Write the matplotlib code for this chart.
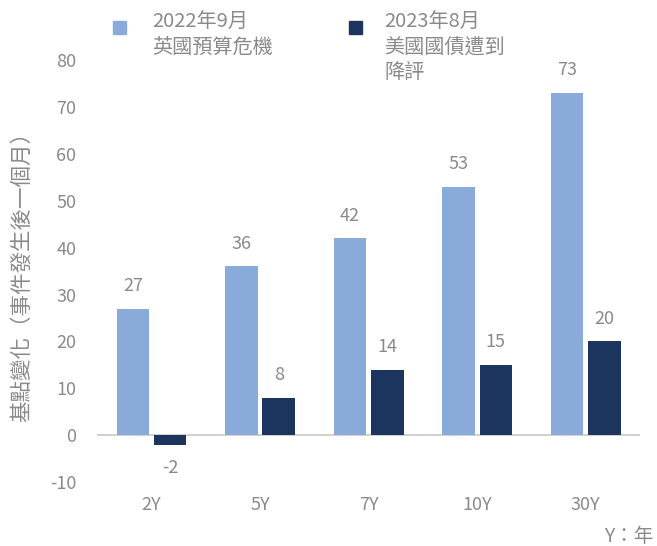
import matplotlib.pyplot as plt
from matplotlib.patches import Rectangle
import numpy as np

plt.rcParams['font.family'] = ['Noto Sans CJK TC', 'DejaVu Sans']
plt.rcParams['axes.unicode_minus'] = False

# Data
tenors = ['2Y', '5Y', '7Y', '10Y', '30Y']
uk_crisis = [27, 36, 42, 53, 73]
us_downgrade = [-2, 8, 14, 15, 20]
legend_labels = ['2022年9月\n英國預算危機', '2023年8月\n美國國債遭到\n降評']

light = '#8aaad9'
dark = '#1b355e'
grey = '#8a8a8a'

fig = plt.figure(figsize=(6.57, 5.46), dpi=100)
ax = fig.add_axes([0.148, 0.117, 0.826, 0.773])

x = np.arange(len(tenors))
w = 0.30
off = 0.172
ax.bar(x - off, uk_crisis, w, color=light)
ax.bar(x + off, us_downgrade, w, color=dark)

# value labels
for xi, v in zip(x, uk_crisis):
    ax.text(xi - off, v + 4.8, str(v), ha='center', va='center', color=grey, fontsize=13)
for xi, v in zip(x, us_downgrade):
    y = v + 4.8 if v >= 0 else v - 5
    ax.text(xi + off, y, str(v), ha='center', va='center', color=grey, fontsize=13)

ax.axhline(0, color='#c8c8c8', lw=1.2, zorder=0)
ax.set_xlim(-0.5, 4.5)
ax.set_ylim(-10, 80)
ax.set_yticks(range(-10, 81, 10))
ax.set_xticks(x)
ax.set_xticklabels(tenors)
ax.tick_params(length=0, colors=grey, labelsize=13)
ax.tick_params(axis='y', pad=15)
ax.tick_params(axis='x', pad=10)
for s in ax.spines.values():
    s.set_visible(False)

ax.set_ylabel('基點變化（事件發生後一個月）', color=grey, fontsize=15.5, labelpad=12)

# legend drawn by hand
fig.patches.append(Rectangle((113 / 657, 1 - 34 / 546), 13 / 657, 13 / 546,
                             transform=fig.transFigure, color=light))
fig.patches.append(Rectangle((349 / 657, 1 - 34 / 546), 13 / 657, 13 / 546,
                             transform=fig.transFigure, color=dark))
fig.text(152 / 657, 1 - 12 / 546, legend_labels[0], ha='left', va='top',
         color=grey, fontsize=14.5, linespacing=1.25)
fig.text(384 / 657, 1 - 12 / 546, legend_labels[1], ha='left', va='top',
         color=grey, fontsize=14.5, linespacing=1.25)

fig.text(0.995, 1 - 537 / 546, 'Y：年', ha='right', va='center', color=grey, fontsize=14)

fig.savefig('out.png', dpi=100)
